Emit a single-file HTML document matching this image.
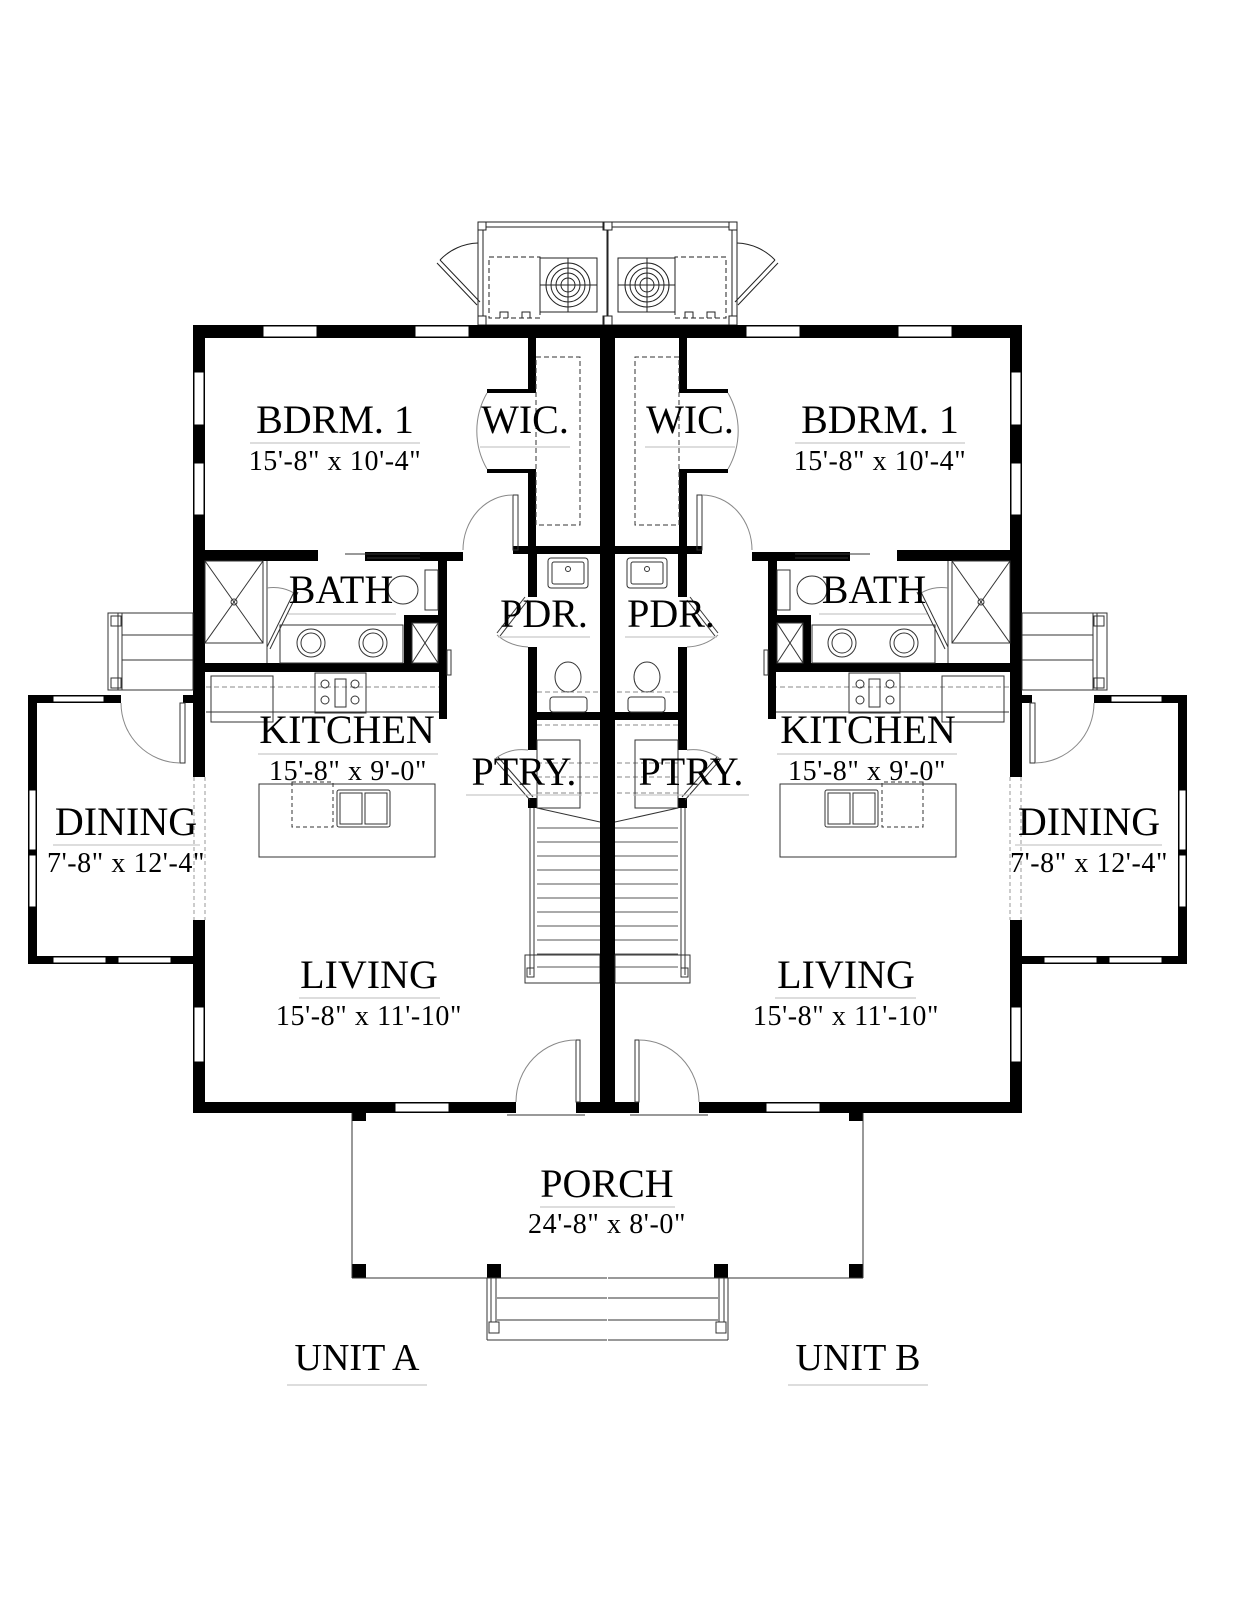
<!DOCTYPE html>
<html><head><meta charset="utf-8"><style>
html,body{margin:0;padding:0;background:#fff}
svg{display:block}
text{font-family:"Liberation Serif",serif;fill:#000}
.d{letter-spacing:0.6px}
</style></head><body>
<svg width="1236" height="1600" viewBox="0 0 1236 1600" xmlns="http://www.w3.org/2000/svg">
<defs>
<g id="L">
 <g fill="none" stroke="#222" stroke-width="1">
  <rect x="478" y="222" width="129" height="103"/>
  <line x1="478" y1="227" x2="607" y2="227"/>
  <line x1="483" y1="227" x2="483" y2="320"/>
  <rect x="540" y="258" width="57" height="54"/>
  <circle cx="568" cy="285" r="22"/><circle cx="568" cy="285" r="17"/><circle cx="568" cy="285" r="12"/><circle cx="568" cy="285" r="7"/>
  <line x1="540" y1="285" x2="597" y2="285"/><line x1="568" y1="258" x2="568" y2="312"/>
  <rect x="489" y="257" width="51" height="61" stroke-dasharray="5,3"/>
  <line x1="480" y1="302" x2="440" y2="260"/><line x1="477" y1="305" x2="437" y2="263"/>
  <path d="M440 260 A55 55 0 0 1 478 243"/>
  <rect x="478" y="222" width="8" height="8" fill="#fff"/>
  <rect x="478" y="316" width="8" height="9" fill="#fff"/>
  <rect x="603" y="222" width="8" height="8" fill="#fff"/>
  <rect x="603" y="316" width="8" height="9" fill="#fff"/>
  <path d="M500 318 v-6 h8 v6 M522 318 v-6 h8 v6"/>
 </g>
 <g fill="#000">
  <rect x="193" y="325" width="422" height="13"/>
  <rect x="193" y="325" width="12" height="788"/>
  <rect x="193" y="1102" width="323" height="11"/>
  <rect x="576" y="1102" width="39" height="11"/>
  <rect x="600" y="325" width="15" height="788"/>
  <rect x="528" y="338" width="8" height="55"/>
  <rect x="487" y="389" width="49" height="4"/>
  <rect x="487" y="469" width="49" height="4"/>
  <rect x="528" y="473" width="8" height="81"/>
  <rect x="513" y="546" width="94" height="8"/>
  <rect x="205" y="550" width="113" height="11"/>
  <rect x="365" y="552" width="98" height="9"/>
  <rect x="438" y="552" width="9" height="120"/>
  <rect x="205" y="663" width="242" height="9"/>
  <rect x="404" y="615" width="8" height="48"/>
  <rect x="404" y="615" width="43" height="8"/>
  <rect x="528" y="554" width="9" height="43"/>
  <rect x="528" y="647" width="9" height="103"/>
  <rect x="528" y="712" width="79" height="8"/>
  <rect x="528" y="798" width="9" height="10"/>
  <rect x="439" y="672" width="8" height="47"/>
  <rect x="28" y="695" width="93" height="8"/>
  <rect x="183" y="695" width="11" height="8"/>
  <rect x="28" y="695" width="9" height="269"/>
  <rect x="28" y="956" width="166" height="8"/>
  <rect x="352" y="1113" width="14" height="8"/>
  <rect x="352" y="1264" width="14" height="14"/>
  <rect x="487" y="1264" width="14" height="14"/>
 </g>
 <g fill="#fff" stroke="#000" stroke-width="1">
  <rect x="263" y="326" width="54" height="11"/>
  <rect x="415" y="326" width="54" height="11"/>
  <rect x="194" y="372" width="10" height="53"/>
  <rect x="194" y="463" width="10" height="52"/>
  <rect x="194" y="1007" width="10" height="55"/>
  <rect x="395" y="1103" width="54" height="9"/>
  <rect x="53" y="696" width="51" height="6"/>
  <rect x="29" y="790" width="7" height="60"/>
  <rect x="29" y="855" width="7" height="52"/>
  <rect x="53" y="957" width="53" height="6"/>
  <rect x="118" y="957" width="53" height="6"/>
 </g>
 <rect x="193" y="777" width="14" height="143" fill="#fff"/>
 <g stroke="#999" stroke-width="1" stroke-dasharray="4,3">
  <line x1="194" y1="777" x2="194" y2="920"/><line x1="205" y1="777" x2="205" y2="920"/>
 </g>
 <g fill="none" stroke="#333" stroke-width="1">
  <rect x="536" y="357" width="44" height="168" stroke-dasharray="5,3"/>
  <path d="M487 393 A76 76 0 0 0 487 469" stroke="#888"/>
  <rect x="513" y="495" width="5" height="55"/>
  <path d="M463 550 A50 55 0 0 1 513 495" stroke="#888"/>
  <line x1="345" y1="554" x2="420" y2="554"/><line x1="367" y1="558" x2="420" y2="558"/>
  <rect x="205" y="561" width="58" height="82"/>
  <line x1="205" y1="561" x2="263" y2="643"/><line x1="263" y1="561" x2="205" y2="643"/>
  <circle cx="234" cy="602" r="3"/>
  <line x1="267" y1="561" x2="267" y2="663"/>
  <line x1="267" y1="647" x2="295" y2="590"/><line x1="270" y1="649" x2="298" y2="592"/>
  <path d="M267 588 A40 40 0 0 1 297 595" stroke="#888"/>
  <rect x="280" y="625" width="123" height="38"/>
  <circle cx="311" cy="643" r="14"/><circle cx="311" cy="643" r="10"/>
  <circle cx="373" cy="643" r="14"/><circle cx="373" cy="643" r="10"/>
  <ellipse cx="403" cy="590" rx="15" ry="14"/>
  <rect x="425" y="570" width="13" height="40"/>
  <rect x="412" y="623" width="26" height="40"/>
  <line x1="412" y1="623" x2="438" y2="663"/><line x1="438" y1="623" x2="412" y2="663"/>
  <rect x="447" y="650" width="4" height="25"/>
  <line x1="206" y1="712" x2="439" y2="712"/>
  <line x1="206" y1="687" x2="439" y2="687" stroke-dasharray="5,3" stroke="#888"/>
  <rect x="211" y="676" width="62" height="46"/>
  <rect x="315" y="673" width="51" height="40"/>
  <circle cx="325" cy="684" r="4"/><circle cx="355" cy="684" r="4"/><circle cx="325" cy="700" r="4"/><circle cx="355" cy="700" r="4"/>
  <rect x="335" y="679" width="11" height="28"/>
  <rect x="259" y="784" width="176" height="73"/>
  <rect x="292" y="782" width="41" height="45" stroke-dasharray="4,3"/>
  <rect x="337" y="790" width="53" height="37" rx="2"/>
  <rect x="340" y="793" width="22" height="31"/><rect x="365" y="793" width="22" height="31"/>
  <rect x="180" y="703" width="5" height="60"/>
  <path d="M121 703 A60 60 0 0 0 180 763" stroke="#888"/>
  <rect x="108" y="613" width="85" height="77"/>
  <line x1="118" y1="613" x2="118" y2="690"/><line x1="122" y1="613" x2="122" y2="690"/>
  <line x1="122" y1="635" x2="193" y2="635"/><line x1="122" y1="660" x2="193" y2="660"/>
  <rect x="111" y="616" width="10" height="10"/><rect x="111" y="678" width="10" height="10"/>
  <rect x="548" y="558" width="40" height="30" rx="3"/>
  <rect x="552" y="562" width="32" height="22" rx="2"/>
  <circle cx="568" cy="569" r="2.5"/>
  <line x1="497" y1="633" x2="525" y2="597"/><line x1="500" y1="636" x2="528" y2="600"/>
  <path d="M497 635 A50 50 0 0 0 528 647" stroke="#888"/>
  <ellipse cx="568" cy="677" rx="13" ry="15"/>
  <rect x="550" y="697" width="37" height="15" rx="3"/>
  <line x1="537" y1="692" x2="600" y2="692" stroke-dasharray="5,3" stroke="#888"/>
  <g stroke="#888" stroke-dasharray="5,3">
   <line x1="537" y1="725" x2="600" y2="725"/><line x1="537" y1="763" x2="600" y2="763"/>
   <line x1="537" y1="777" x2="600" y2="777"/><line x1="537" y1="793" x2="600" y2="793"/>
  </g>
  <rect x="537" y="740" width="43" height="68"/>
  <line x1="495" y1="760" x2="530" y2="800"/><line x1="498" y1="757" x2="533" y2="797"/>
  <path d="M496 758 A45 45 0 0 1 528 750" stroke="#888"/>
  <line x1="537" y1="808" x2="600" y2="822"/>
  <line x1="530" y1="808" x2="530" y2="975"/><line x1="534" y1="808" x2="534" y2="975"/>
  <g stroke="#555">
   <line x1="537" y1="828" x2="600" y2="828"/><line x1="537" y1="842" x2="600" y2="842"/>
   <line x1="537" y1="856" x2="600" y2="856"/><line x1="537" y1="870" x2="600" y2="870"/>
   <line x1="537" y1="884" x2="600" y2="884"/><line x1="537" y1="898" x2="600" y2="898"/>
   <line x1="537" y1="912" x2="600" y2="912"/><line x1="537" y1="926" x2="600" y2="926"/>
   <line x1="537" y1="940" x2="600" y2="940"/><line x1="537" y1="954" x2="600" y2="954"/>
   <line x1="537" y1="967" x2="600" y2="967"/>
  </g>
  <rect x="525" y="955" width="75" height="28"/>
  <rect x="527" y="968" width="7" height="9"/>
  <rect x="576" y="1040" width="4" height="62"/>
  <path d="M516 1102 A60 62 0 0 1 576 1040" stroke="#888"/>
  <line x1="507" y1="1115" x2="585" y2="1115"/>
  <line x1="352" y1="1113" x2="352" y2="1278"/>
  <line x1="352" y1="1278" x2="607" y2="1278"/>
  <line x1="487" y1="1278" x2="487" y2="1340"/>
  <line x1="487" y1="1340" x2="607" y2="1340"/>
  <line x1="497" y1="1298" x2="607" y2="1298"/>
  <line x1="497" y1="1320" x2="607" y2="1320"/>
  <line x1="491" y1="1278" x2="491" y2="1322"/><line x1="496" y1="1278" x2="496" y2="1322"/>
  <rect x="489" y="1322" width="10" height="11"/>
 </g>
</g>
</defs>
<use href="#L"/>
<use href="#L" transform="translate(1215,0) scale(-1,1)"/>

<g stroke="#bbb" stroke-width="1">
 <line x1="250" y1="443" x2="420" y2="443"/><line x1="795" y1="443" x2="965" y2="443"/>
 <line x1="480" y1="447" x2="570" y2="447"/><line x1="645" y1="447" x2="735" y2="447"/>
 <line x1="288" y1="614" x2="396" y2="614"/><line x1="819" y1="614" x2="927" y2="614"/>
 <line x1="498" y1="637" x2="590" y2="637"/><line x1="625" y1="637" x2="717" y2="637"/>
 <line x1="466" y1="795" x2="582" y2="795"/><line x1="633" y1="795" x2="749" y2="795"/>
 <line x1="258" y1="754" x2="438" y2="754"/><line x1="777" y1="754" x2="957" y2="754"/>
 <line x1="53" y1="845" x2="200" y2="845"/><line x1="1015" y1="845" x2="1162" y2="845"/>
 <line x1="299" y1="998" x2="440" y2="998"/><line x1="775" y1="998" x2="916" y2="998"/>
 <line x1="540" y1="1207" x2="675" y2="1207"/>
 <line x1="287" y1="1385" x2="427" y2="1385"/><line x1="788" y1="1385" x2="928" y2="1385"/>
</g>

<g text-anchor="middle">
 <text x="335" y="433" font-size="40">BDRM. 1</text>
 <text class="d" x="335" y="470" font-size="28">15'-8" x 10'-4"</text>
 <text x="880" y="433" font-size="40">BDRM. 1</text>
 <text class="d" x="880" y="470" font-size="28">15'-8" x 10'-4"</text>
 <text x="525" y="433" font-size="40">WIC.</text>
 <text x="690" y="433" font-size="40">WIC.</text>
 <text x="341" y="603" font-size="40">BATH</text>
 <text x="874" y="603" font-size="40">BATH</text>
 <text x="544" y="627" font-size="40">PDR.</text>
 <text x="671" y="627" font-size="40">PDR.</text>
 <text x="524" y="785" font-size="40">PTRY.</text>
 <text x="691" y="785" font-size="40">PTRY.</text>
 <text x="347" y="743" font-size="40">KITCHEN</text>
 <text class="d" x="348" y="780" font-size="28">15'-8" x 9'-0"</text>
 <text x="868" y="743" font-size="40">KITCHEN</text>
 <text class="d" x="867" y="780" font-size="28">15'-8" x 9'-0"</text>
 <text x="126" y="835" font-size="40">DINING</text>
 <text class="d" x="126" y="872" font-size="28">7'-8" x 12'-4"</text>
 <text x="1089" y="835" font-size="40">DINING</text>
 <text class="d" x="1089" y="872" font-size="28">7'-8" x 12'-4"</text>
 <text x="369" y="988" font-size="40">LIVING</text>
 <text class="d" x="369" y="1025" font-size="28">15'-8" x 11'-10"</text>
 <text x="846" y="988" font-size="40">LIVING</text>
 <text class="d" x="846" y="1025" font-size="28">15'-8" x 11'-10"</text>
 <text x="607" y="1197" font-size="40">PORCH</text>
 <text class="d" x="607" y="1233" font-size="28">24'-8" x 8'-0"</text>
 <text x="357" y="1370" font-size="38">UNIT A</text>
 <text x="858" y="1370" font-size="38">UNIT B</text>
</g>
</svg>
</body></html>
